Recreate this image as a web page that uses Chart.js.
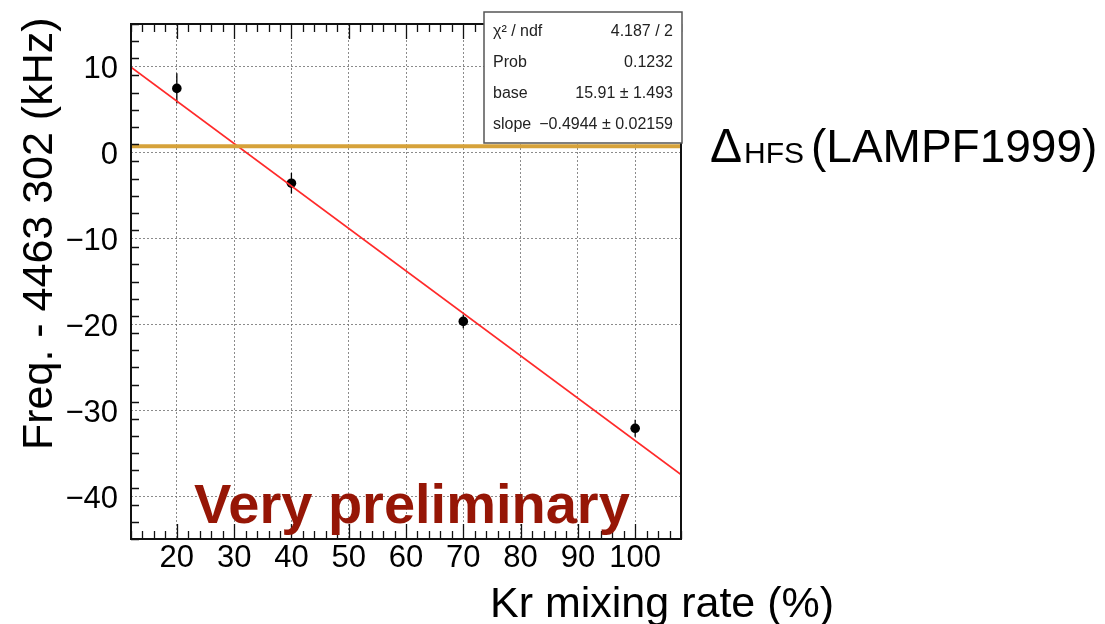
<!DOCTYPE html>
<html>
<head>
<meta charset="utf-8">
<script src="https://cdn.jsdelivr.net/npm/chart.js@4/dist/chart.umd.min.js"></script>
<style>
  html, body { margin: 0; padding: 0; background: #ffffff; }
  #wrap { width: 1105px; height: 624px; position: relative; }
</style>
</head>
<body>
<div id="wrap"><canvas id="c" width="1105" height="624"></canvas></div>
<script>
// Measured frequency offsets vs. Kr mixing rate
const mixingRate = [20, 40, 70, 100];          // %
const freqOffset = [7.5, -3.55, -19.65, -32.1]; // kHz, relative to 4463 302 kHz
const freqError  = [1.75, 1.2, 0.8, 1.0];       // kHz

// Linear fit result: base + slope * x
const fitBase  = 15.91;
const fitSlope = -0.4944;
const fitStatLabels = ["\u03C7\u00B2 / ndf", "Prob", "base", "slope"];
const fitStatValues = ["4.187 / 2", "0.1232", "15.91 \u00B1 1.493", "\u22120.4944 \u00B1 0.02159"];

// Reference value Delta_HFS (LAMPF 1999) relative to 4463 302 kHz
const lampfDelta = 0.765;

// Axis ranges and labelled ticks
const xRange = [12, 108];
const yRange = [-45, 15];
const xTickLabels = [20, 30, 40, 50, 60, 70, 80, 90, 100];
const yTickLabels = [-40, -30, -20, -10, 0, 10];

const FONT = "'Liberation Sans', Arial, Helvetica, sans-serif";

const fitLine = xRange.map(x => ({ x: x, y: fitBase + fitSlope * x }));
const lampfLine = xRange.map(x => ({ x: x, y: lampfDelta }));
const points = mixingRate.map((x, i) => ({ x: x, y: freqOffset[i] }));

// Vertical error bars drawn just before the points
const errorBars = {
  id: 'errorBars',
  beforeDatasetDraw(chart, args) {
    if (args.index !== 2) return;
    const { ctx, scales: { x, y } } = chart;
    ctx.save();
    ctx.strokeStyle = '#000';
    ctx.lineWidth = 1.3;
    mixingRate.forEach((v, i) => {
      const px = x.getPixelForValue(v);
      ctx.beginPath();
      ctx.moveTo(px, y.getPixelForValue(freqOffset[i] - freqError[i]));
      ctx.lineTo(px, y.getPixelForValue(freqOffset[i] + freqError[i]));
      ctx.stroke();
    });
    ctx.restore();
  }
};

// Frame, inward ticks, fit box and annotations
const frameAndText = {
  id: 'frameAndText',
  afterDraw(chart) {
    const { ctx, chartArea: a, scales: { x, y } } = chart;
    ctx.save();

    // ticks (inside the frame), minor every 2, major every 10
    ctx.strokeStyle = '#111';
    ctx.lineWidth = 1.3;
    ctx.beginPath();
    for (let v = xRange[0]; v <= xRange[1]; v += 2) {
      const px = Math.round(x.getPixelForValue(v)) + 0.5;
      const len = (v % 10 === 0) ? 15 : 8;
      ctx.moveTo(px, a.bottom); ctx.lineTo(px, a.bottom - len);
      ctx.moveTo(px, a.top); ctx.lineTo(px, a.top + len);
    }
    for (let v = yRange[0]; v <= yRange[1]; v += 2) {
      const py = Math.round(y.getPixelForValue(v)) + 0.5;
      const len = (v % 10 === 0) ? 15 : 8;
      ctx.moveTo(a.left, py); ctx.lineTo(a.left + len, py);
    }
    ctx.stroke();

    // frame
    ctx.lineWidth = 2;
    ctx.strokeStyle = '#111';
    ctx.strokeRect(a.left, a.top, a.right - a.left, a.bottom - a.top);

    // fit statistics box
    const bx = 484, by = 12, bw = 198, bh = 131;
    ctx.fillStyle = '#fff';
    ctx.fillRect(bx, by, bw, bh);
    ctx.lineWidth = 1.5;
    ctx.strokeStyle = '#555';
    ctx.strokeRect(bx, by, bw, bh);
    ctx.fillStyle = '#222';
    ctx.font = '16px ' + FONT;
    ctx.textBaseline = 'alphabetic';
    fitStatLabels.forEach((t, i) => {
      const base = 36 + i * 31;
      ctx.textAlign = 'left';
      ctx.fillText(t, 493, base);
      ctx.textAlign = 'right';
      ctx.fillText(fitStatValues[i], 673, base);
    });

    // watermark
    ctx.fillStyle = '#961606';
    ctx.font = 'bold 56px ' + FONT;
    ctx.textAlign = 'left';
    ctx.fillText('Very preliminary', 194, 523);

    // reference line label
    ctx.fillStyle = '#000';
    ctx.font = '48px ' + FONT;
    ctx.fillText('\u0394', 710, 162);
    ctx.font = '30px ' + FONT;
    ctx.fillText('HFS', 744, 163);
    ctx.font = '46px ' + FONT;
    ctx.fillText('(LAMPF1999)', 811, 162);

    // axis titles
    ctx.font = '43px ' + FONT;
    ctx.textAlign = 'left';
    ctx.fillText('Kr mixing rate (%)', 490, 617);
    ctx.save();
    ctx.translate(52, 450);
    ctx.rotate(-Math.PI / 2);
    ctx.fillText('Freq. - 4463 302 (kHz)', 0, 0);
    ctx.restore();

    ctx.restore();
  }
};

const minus = v => String(v).replace('-', '\u2212');
const noPad = s => { s.paddingTop = 0; s.paddingBottom = 0; s.paddingLeft = 0; s.paddingRight = 0; };

new Chart(document.getElementById('c'), {
  type: 'scatter',
  data: {
    datasets: [
      {
        label: 'LAMPF1999',
        data: lampfLine,
        showLine: true,
        borderColor: '#d6a23a',
        borderWidth: 4,
        pointRadius: 0
      },
      {
        label: 'fit',
        data: fitLine,
        showLine: true,
        borderColor: '#ff2a2a',
        borderWidth: 1.8,
        pointRadius: 0
      },
      {
        label: 'data',
        data: points,
        pointRadius: 4.8,
        pointBackgroundColor: '#000',
        pointBorderWidth: 0
      }
    ]
  },
  options: {
    responsive: false,
    devicePixelRatio: 1,
    animation: false,
    events: [],
    layout: { padding: { left: 0, top: 24, right: 424, bottom: 0 } },
    plugins: { legend: { display: false }, tooltip: { enabled: false } },
    scales: {
      x: {
        type: 'linear',
        min: xRange[0], max: xRange[1],
        afterBuildTicks: s => { s.ticks = xTickLabels.map(v => ({ value: v })); },
        afterFit: s => { s.height = 85; noPad(s); },
        ticks: {
          color: '#000', padding: 1,
          font: { family: FONT, size: 31 },
          maxRotation: 0, autoSkip: false,
          callback: v => minus(v)
        },
        grid: { color: 'rgba(110,110,110,0.8)', lineWidth: 1, drawTicks: false },
        border: { display: false, dash: [2, 2] }
      },
      y: {
        type: 'linear',
        min: yRange[0], max: yRange[1],
        afterBuildTicks: s => { s.ticks = yTickLabels.map(v => ({ value: v })); },
        afterFit: s => { s.width = 131; noPad(s); },
        ticks: {
          color: '#000', padding: 13, labelOffset: 3,
          font: { family: FONT, size: 31 },
          autoSkip: false,
          callback: v => minus(v)
        },
        grid: { color: 'rgba(110,110,110,0.8)', lineWidth: 1, drawTicks: false },
        border: { display: false, dash: [2, 2] }
      }
    }
  },
  plugins: [errorBars, frameAndText]
});
</script>
</body>
</html>
